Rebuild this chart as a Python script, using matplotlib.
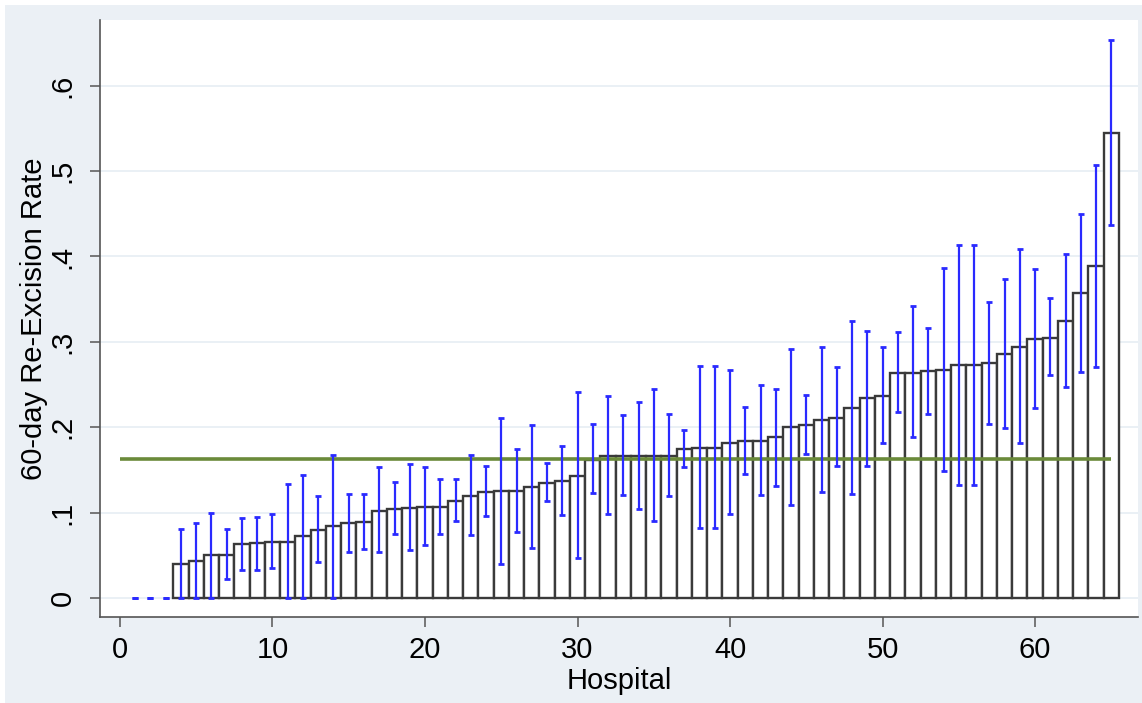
import matplotlib
matplotlib.use("Agg")
import matplotlib.pyplot as plt
from matplotlib.patches import Rectangle
import numpy as np

plt.rcParams['font.family'] = ['Liberation Sans', 'DejaVu Sans']

hospital = list(range(1, 66))
rate = [0, 0, 0,
        0.040, 0.043, 0.050, 0.050, 0.063, 0.064, 0.066, 0.066, 0.072, 0.080, 0.084, 0.0875,
        0.089, 0.102, 0.104, 0.105, 0.107, 0.107, 0.114, 0.120, 0.124, 0.125, 0.125, 0.130, 0.135, 0.137, 0.143,
        0.162, 0.166, 0.166, 0.166, 0.166, 0.166, 0.174, 0.176, 0.176, 0.182, 0.184, 0.184, 0.188, 0.200,
        0.203, 0.209, 0.211, 0.222, 0.234, 0.237, 0.264, 0.264, 0.266, 0.267, 0.273, 0.273, 0.275, 0.286,
        0.294, 0.303, 0.305, 0.324, 0.357, 0.389, 0.545]
ci_low = [0, 0, 0,
          0, 0, 0, 0.022, 0.033, 0.033, 0.035, 0, 0, 0.042, 0, 0.054,
          0.057, 0.054, 0.075, 0.056, 0.062, 0.075, 0.090, 0.074, 0.096, 0.040, 0.077, 0.059, 0.114, 0.097, 0.047,
          0.123, 0.098, 0.121, 0.104, 0.090, 0.119, 0.153, 0.082, 0.082, 0.098, 0.145, 0.121, 0.131, 0.109,
          0.169, 0.124, 0.155, 0.122, 0.155, 0.182, 0.218, 0.188, 0.216, 0.149, 0.132, 0.132, 0.204, 0.199,
          0.181, 0.223, 0.261, 0.247, 0.265, 0.271, 0.437]
ci_high = [0, 0, 0,
           0.081, 0.0875, 0.100, 0.081, 0.094, 0.095, 0.098, 0.134, 0.144, 0.120, 0.168, 0.122,
           0.122, 0.153, 0.136, 0.157, 0.153, 0.139, 0.139, 0.167, 0.154, 0.211, 0.174, 0.203, 0.158, 0.178, 0.241,
           0.204, 0.237, 0.214, 0.230, 0.245, 0.216, 0.197, 0.272, 0.272, 0.267, 0.224, 0.249, 0.245, 0.292,
           0.238, 0.294, 0.270, 0.324, 0.313, 0.294, 0.311, 0.342, 0.316, 0.386, 0.414, 0.414, 0.347, 0.374,
           0.409, 0.385, 0.351, 0.403, 0.450, 0.507, 0.654]
overall_rate = 0.163
x_ticks = [0, 10, 20, 30, 40, 50, 60]
y_ticks = [0, 0.1, 0.2, 0.3, 0.4, 0.5, 0.6]
y_ticklabels = ["0", ".1", ".2", ".3", ".4", ".5", ".6"]

W, H = 1142, 703
fig = plt.figure(figsize=(W / 100, H / 100), dpi=100, facecolor='white')
bg = '#ebf0f5'
bgrect = Rectangle((5 / W, 0), 1 - 5 / W, 1 - 5 / H, transform=fig.transFigure,
                   facecolor=bg, edgecolor='none', zorder=-10)
fig.add_artist(bgrect)

ax = fig.add_axes([100 / W, (H - 617) / H, 1038 / W, 597 / H])
ax.set_zorder(1)
ax.set_facecolor('white')

x = np.array(hospital)
r = np.array(rate)
lo = np.array(ci_low)
hi = np.array(ci_high)

edge_colors = ['#3a3a3a' if v > 0 else 'none' for v in rate]
ax.bar(x, r, width=1.0, color='white', edgecolor=edge_colors, linewidth=1.7, zorder=2)
ax.hlines(overall_rate, 0, 65, color='#6a8a3a', linewidth=2.6, zorder=3)
ax.errorbar(x, r, yerr=[r - lo, hi - r], fmt='none', ecolor='#2a2aff', elinewidth=1.6,
            capsize=2, capthick=2, zorder=4)

ax.set_xlim(-1.31, 66.75)
ax.set_ylim(-0.0223, 0.677)

ax.set_yticks(y_ticks)
ax.set_yticklabels(y_ticklabels, rotation=90, va='center')
ax.set_xticks(x_ticks)
ax.yaxis.grid(True, color='#e6edf3', linewidth=1.2, zorder=0)
ax.set_axisbelow(True)

for s in ['top', 'right']:
    ax.spines[s].set_visible(False)
for s in ['left', 'bottom']:
    ax.spines[s].set_color('#555555')
    ax.spines[s].set_linewidth(1.2)

ax.tick_params(axis='both', length=7, width=1.1, color='#555555', labelsize=21, labelcolor='black')
ax.tick_params(axis='x', pad=7)
ax.tick_params(axis='y', pad=10)

ax.set_xlabel('Hospital', fontsize=21, labelpad=2)
ax.set_ylabel('60-day Re-Excision Rate', fontsize=21, labelpad=0)

fig.savefig('out.png', dpi=100, facecolor=fig.get_facecolor())
